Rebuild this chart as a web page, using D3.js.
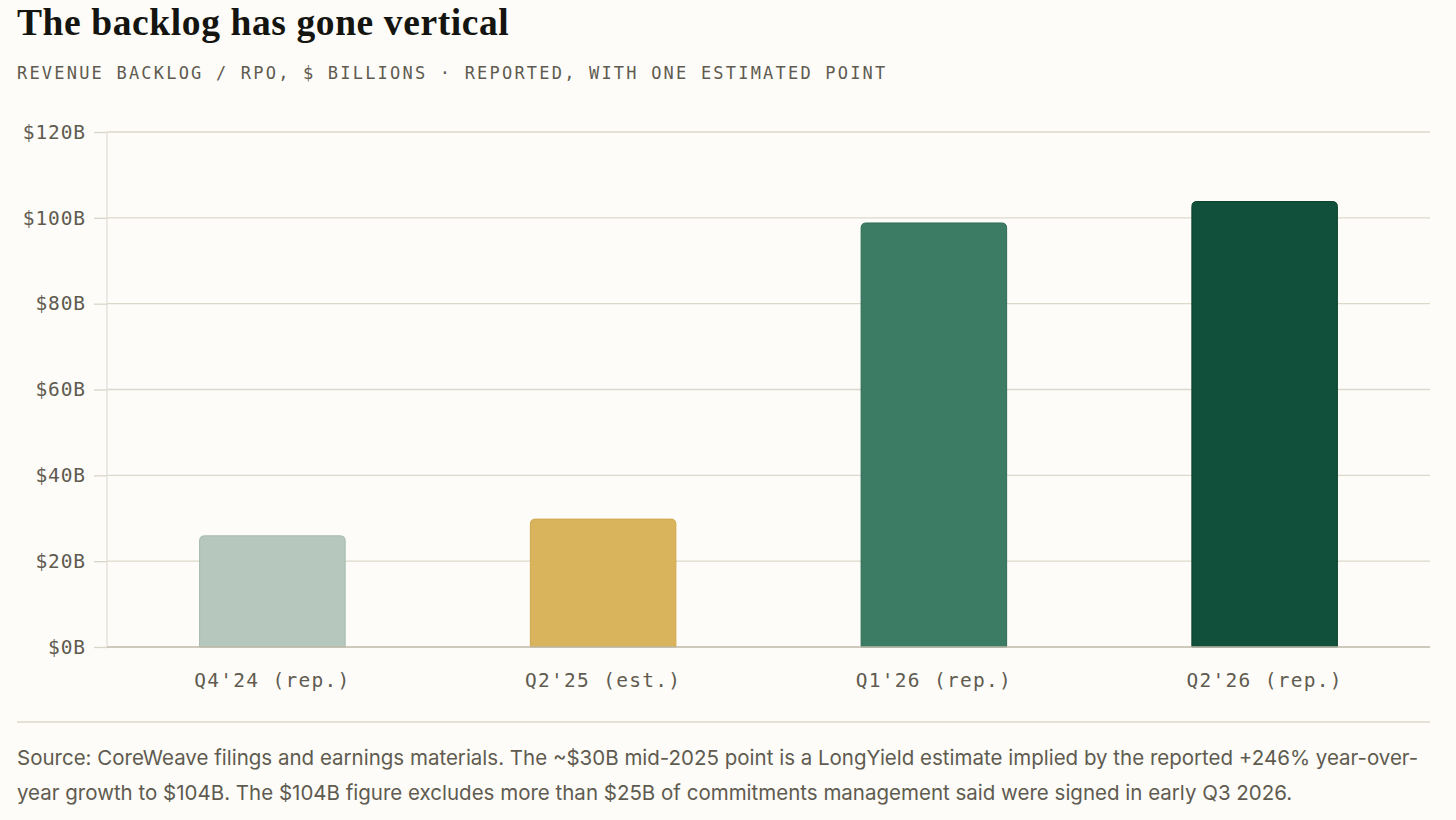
<!DOCTYPE html>
<html>
<head>
<meta charset="utf-8">
<script src="https://cdn.jsdelivr.net/npm/d3@7"></script>
<style>
  body { margin: 0; background: #fdfcf8; }
  svg { display: block; }
</style>
</head>
<body>
<div id="chart"></div>
<script>
var categories = ["Q4'24 (rep.)", "Q2'25 (est.)", "Q1'26 (rep.)", "Q2'26 (rep.)"];
var backlog = [25.9, 29.8, 98.8, 103.8];
var barColors = ['#b6c8bd', '#d9b45c', '#3d7c64', '#11503a'];
var barStrokes = ['#a5b9ac', '#cfa84e', '#2f6e56', '#0b3f2d'];
var yTicks = [0, 20, 40, 60, 80, 100, 120];

var W = 1456, H = 820;
var margin = { top: 132, left: 107, right: 26, bottom: 173 };

var svg = d3.select('#chart').append('svg').attr('width', W).attr('height', H);
svg.append('rect').attr('width', W).attr('height', H).attr('fill', '#fdfcf8');

var x = d3.scaleBand()
	.domain(categories)
	.range([margin.left, W - margin.right])
	.paddingInner(0.56)
	.paddingOuter(0.28);

var y = d3.scaleLinear().domain([0, 120]).range([H - margin.bottom, margin.top]);

// title + subtitle
svg.append('text')
	.attr('x', 17).attr('y', 35)
	.attr('font-family', 'Liberation Serif, serif')
	.attr('font-weight', 700)
	.attr('font-size', 37.5)
	.attr('letter-spacing', 0.6)
	.attr('fill', '#141410')
	.text('The backlog has gone vertical');

svg.append('text')
	.attr('x', 17).attr('y', 79)
	.attr('font-family', 'DejaVu Sans Mono, monospace')
	.attr('font-size', 17)
	.attr('letter-spacing', 2.2)
	.attr('fill', '#5f5b50')
	.text('REVENUE BACKLOG / RPO, $ BILLIONS \u00b7 REPORTED, WITH ONE ESTIMATED POINT');

// y ticks + labels
var yAxis = svg.append('g')
	.attr('transform', 'translate(' + margin.left + ',0)')
	.call(d3.axisLeft(y).tickValues(yTicks).tickSize(13).tickPadding(8).tickFormat(d => '$' + d + 'B'));
yAxis.select('.domain').remove();
yAxis.selectAll('.tick line').attr('stroke', '#d9d5c8').attr('stroke-width', 1.3);
yAxis.selectAll('.tick text')
	.attr('font-family', 'DejaVu Sans Mono, monospace')
	.attr('font-size', 19.5)
	.attr('letter-spacing', 0.9)
	.attr('fill', '#5f5b50');

// grid lines
svg.append('g').selectAll('line')
	.data(yTicks.filter(d => d > 0))
	.join('line')
	.attr('x1', margin.left).attr('x2', W - margin.right)
	.attr('y1', d => y(d)).attr('y2', d => y(d))
	.attr('stroke', '#dcd8ca').attr('stroke-width', 1.3);

// left axis line
svg.append('line')
	.attr('x1', margin.left).attr('x2', margin.left)
	.attr('y1', y(120)).attr('y2', y(0))
	.attr('stroke', '#e2dfd8').attr('stroke-width', 1.3);

// bars, rounded on top
var r = 5;
function barPath(d, i) {
	var x0 = x(categories[i]), w = x.bandwidth();
	var yt = y(d), yb = y(0);
	return 'M' + x0 + ',' + yb +
		'V' + (yt + r) +
		'Q' + x0 + ',' + yt + ' ' + (x0 + r) + ',' + yt +
		'H' + (x0 + w - r) +
		'Q' + (x0 + w) + ',' + yt + ' ' + (x0 + w) + ',' + (yt + r) +
		'V' + yb + 'Z';
}
svg.append('g').selectAll('path')
	.data(backlog)
	.join('path')
	.attr('d', barPath)
	.attr('fill', (d, i) => barColors[i])
	.attr('stroke', (d, i) => barStrokes[i])
	.attr('stroke-width', 1);

// baseline
svg.append('line')
	.attr('x1', margin.left).attr('x2', W - margin.right)
	.attr('y1', y(0)).attr('y2', y(0))
	.attr('stroke', '#bdb8aa').attr('stroke-width', 1.5);

// x labels
var xAxis = svg.append('g')
	.attr('transform', 'translate(0,' + y(0) + ')')
	.call(d3.axisBottom(x).tickSize(0).tickPadding(26));
xAxis.select('.domain').remove();
xAxis.selectAll('.tick text')
	.attr('font-family', 'DejaVu Sans Mono, monospace')
	.attr('font-size', 19.5)
	.attr('letter-spacing', 1.3)
	.attr('fill', '#5f5b50');

// footer rule + note
svg.append('line')
	.attr('x1', 17).attr('x2', W - margin.right)
	.attr('y1', 722).attr('y2', 722)
	.attr('stroke', '#dcd8ca').attr('stroke-width', 1.3);

var notes = [
	'Source: CoreWeave filings and earnings materials. The ~$30B mid-2025 point is a LongYield estimate implied by the reported +246% year-over-',
	'year growth to $104B. The $104B figure excludes more than $25B of commitments management said were signed in early Q3 2026.'
];
svg.append('g').selectAll('text')
	.data(notes)
	.join('text')
	.attr('x', 17)
	.attr('y', (d, i) => 765 + i * 35)
	.attr('font-family', 'Inter, sans-serif')
	.attr('font-size', 20.5)
	.attr('fill', '#5f5b50')
	.text(d => d);
</script>
</body>
</html>
